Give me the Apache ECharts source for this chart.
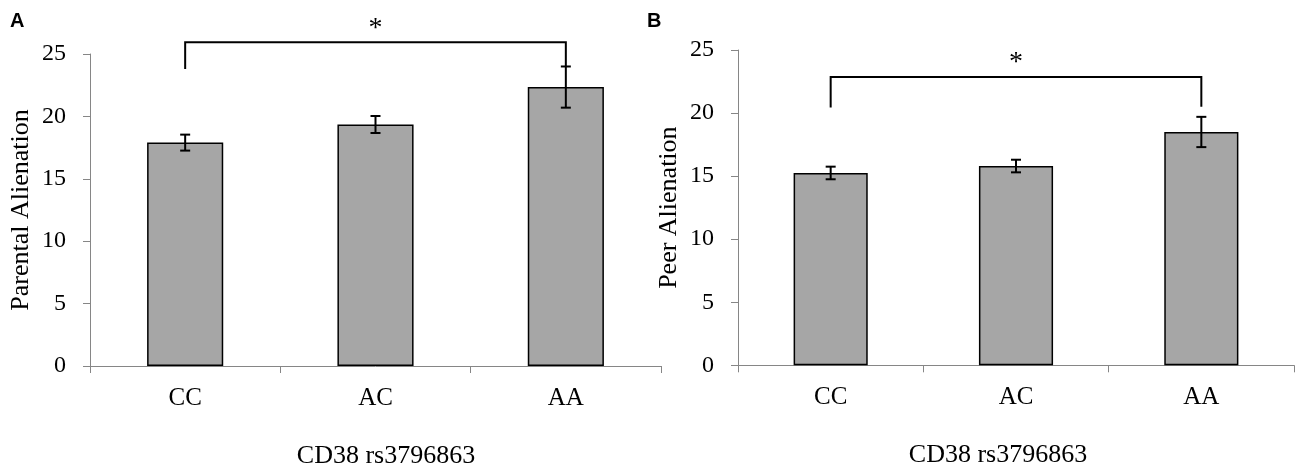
<!DOCTYPE html>
<html lang="en">
<head>
	<meta charset="utf-8" />
	<title>CD38 rs3796863 alienation</title>
	<style>
		html, body { margin: 0; padding: 0; background: #fff; }
		#chart { width: 1300px; height: 474px; }
	</style>
</head>
<body>
	<div id="chart"></div>
	<script src="https://cdn.jsdelivr.net/npm/echarts@6/dist/echarts.min.js"></script>
	<script>
		// genotypes on the x axis
		const categories = ['CC', 'AC', 'AA'];
		// panel A: parental alienation, mean and error
		const parentalMeans = [17.9, 19.35, 22.35];
		const parentalErrors = [0.64, 0.68, 1.65];
		// panel B: peer alienation
		const peerMeans = [15.25, 15.8, 18.5];
		const peerErrors = [0.5, 0.5, 1.2];
		// y axis ticks
		const yMin = 0, yMax = 25, yStep = 5;
		// significance brackets: [from, to, top, left leg end, right leg end]
		const parentalBracket = [0, 2, 25.95, 23.8, 24.0];
		const peerBracket = [0, 2, 22.85, 20.45, 20.5];

		const serif = 'Liberation Serif, Times New Roman, serif';
		const axisGray = '#868686';

		const chart = echarts.init(document.getElementById('chart'));

		function errorBars(means, errs) {
			return categories.map(function (c, i) { return [i, means[i], errs[i]]; });
		}

		function renderError(params, api) {
			const x = api.value(0);
			const m = api.value(1);
			const e = api.value(2);
			const top = api.coord([x, m + e]);
			const bot = api.coord([x, m - e]);
			const hw = 5;
			const style = { stroke: '#000', lineWidth: 2, fill: null };
			return {
				type: 'group',
				children: [
					{ type: 'line', shape: { x1: top[0], y1: top[1], x2: bot[0], y2: bot[1] }, style: style },
					{ type: 'line', shape: { x1: top[0] - hw, y1: top[1], x2: top[0] + hw, y2: top[1] }, style: style },
					{ type: 'line', shape: { x1: bot[0] - hw, y1: bot[1], x2: bot[0] + hw, y2: bot[1] }, style: style }
				]
			};
		}

		function renderBracket(params, api) {
			const a = api.value(0), b = api.value(1);
			const top = api.value(2);
			const p1 = api.coord([a, api.value(3)]);
			const p2 = api.coord([a, top]);
			const p3 = api.coord([b, top]);
			const p4 = api.coord([b, api.value(4)]);
			const mid = api.coord([(a + b) / 2, top]);
			return {
				type: 'group',
				children: [
					{
						type: 'polyline',
						shape: { points: [p1, p2, p3, p4] },
						style: { stroke: '#000', lineWidth: 2, fill: null }
					},
					{
						type: 'text',
						x: mid[0], y: mid[1] - 14,
						style: {
							text: '*', fill: '#000', font: '28px ' + serif,
							align: 'center', verticalAlign: 'middle'
						}
					}
				]
			};
		}

		function xAxisOpt(idx, namePad) {
			return {
				gridIndex: idx,
				type: 'category',
				data: categories,
				name: 'CD38 rs3796863',
				nameLocation: 'middle',
				nameGap: 77,
				nameTextStyle: { fontFamily: serif, fontSize: 26, color: '#000', padding: namePad },
				axisLine: { lineStyle: { color: axisGray, width: 1 } },
				axisTick: { show: true, length: 7, lineStyle: { color: axisGray } },
				axisLabel: { fontFamily: serif, fontSize: 25, color: '#000', margin: 20 },
				splitLine: { show: false }
			};
		}

		function yAxisOpt(idx, title) {
			return {
				gridIndex: idx,
				type: 'value',
				min: yMin, max: yMax, interval: yStep,
				name: title,
				nameLocation: 'middle',
				nameRotate: 90,
				nameGap: 56,
				nameTextStyle: { fontFamily: serif, fontSize: 26, color: '#000' },
				axisLine: { show: true, lineStyle: { color: axisGray, width: 1 } },
				axisTick: { show: true, length: 7, lineStyle: { color: axisGray } },
				axisLabel: { fontFamily: serif, fontSize: 24, color: '#000', margin: 24 },
				splitLine: { show: false }
			};
		}

		function barSeries(idx, means) {
			return {
				type: 'bar',
				xAxisIndex: idx, yAxisIndex: idx,
				data: means,
				barWidth: '40%',
				itemStyle: { color: '#A6A6A6', borderColor: '#000', borderWidth: 1.5 },
				silent: true
			};
		}

		const option = {
			animation: false,
			backgroundColor: '#fff',
			graphic: [
				{ type: 'text', left: 10, top: 11, style: { text: 'A', font: 'bold 20px Liberation Sans, Arial, sans-serif', fill: '#000' } },
				{ type: 'text', left: 647, top: 11, style: { text: 'B', font: 'bold 20px Liberation Sans, Arial, sans-serif', fill: '#000' } }
			],
			grid: [
				{ left: 90, top: 54, width: 571, height: 313.5 },
				{ left: 738, top: 50, width: 556, height: 315.3 }
			],
			xAxis: [xAxisOpt(0, [0, 0, 0, 21]), xAxisOpt(1, [0, 36, 0, 0])],
			yAxis: [yAxisOpt(0, 'Parental Alienation'), yAxisOpt(1, 'Peer Alienation')],
			series: [
				barSeries(0, parentalMeans),
				barSeries(1, peerMeans),
				{
					type: 'custom', xAxisIndex: 0, yAxisIndex: 0, z: 5, silent: true,
					renderItem: renderError, data: errorBars(parentalMeans, parentalErrors)
				},
				{
					type: 'custom', xAxisIndex: 1, yAxisIndex: 1, z: 5, silent: true,
					renderItem: renderError, data: errorBars(peerMeans, peerErrors)
				},
				{
					type: 'custom', xAxisIndex: 0, yAxisIndex: 0, z: 5, silent: true, clip: false,
					renderItem: renderBracket, data: [parentalBracket]
				},
				{
					type: 'custom', xAxisIndex: 1, yAxisIndex: 1, z: 5, silent: true, clip: false,
					renderItem: renderBracket, data: [peerBracket]
				}
			]
		};

		chart.setOption(option);

		window.onresize = function () {
			chart.resize();
		};
	</script>
</body>
</html>
